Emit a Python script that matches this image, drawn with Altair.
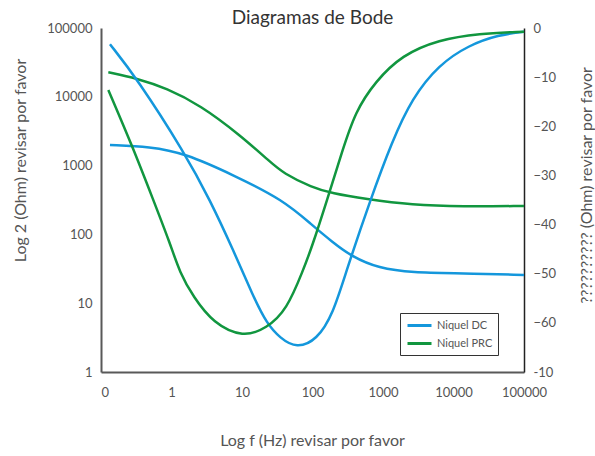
import altair as alt
import pandas as pd

# ---- data ----
series_names = ["Niquel DC", "Niquel PRC"]
tick_x = [0.1, 1, 10, 100, 1000, 10000, 100000]
tick_left = [1, 10, 100, 1000, 10000, 100000]
tick_right = [0, -10, -20, -30, -40, -50, -60, -70]

# magnitude curves (left axis, Ohm, log)
dc_mag_f = [0.134, 0.496, 1.55, 7.53, 38.5, 98.4, 189, 363, 869, 2579, 13200, 100000]
dc_mag_z = [1991, 1883, 1510, 730, 316, 137, 78.3, 47.4, 32.2, 27.8, 27.2, 25.7]
prc_mag_f = [0.127, 0.321, 0.855, 2.54, 9.37, 24.9, 38.5, 98.4, 189, 561, 2579, 13200, 100000]
prc_mag_z = [22700, 18600, 13300, 7600, 2790, 1140, 773, 481, 395, 327, 267, 253, 259]

# phase curves (right axis, degrees)
dc_ph_f = [0.134, 0.321, 1.55, 3.52, 7.53, 14.5, 22.4, 34.6, 59.7, 115, 197, 305, 661,
           1342, 2579, 6166, 16400, 43700, 100000]
dc_ph_v = [-3.3, -10.2, -25.5, -35.0, -45.2, -54.7, -60.1, -63.1, -65.2, -63.5, -58.1, -49.2,
           -35.0, -23.1, -14.3, -7.5, -3.5, -1.4, -0.75]
prc_ph_f = [0.127, 0.287, 0.552, 0.953, 1.32, 2.04, 3.92, 10.4, 22.4, 43.0, 74.1, 98.4, 161,
            262, 405, 778, 1862, 6166, 22800, 100000]
prc_ph_v = [-12.6, -24.5, -35.0, -43.8, -49.9, -54.7, -60.1, -63.0, -61.1, -57.4, -49.2, -44.5,
            -35.0, -25.2, -17.0, -10.9, -5.5, -2.4, -1.1, -0.75]

blue = "#1497DC"
green = "#11963F"

mag = pd.concat([
    pd.DataFrame({"f": dc_mag_f, "v": dc_mag_z, "s": series_names[0], "o": range(len(dc_mag_f))}),
    pd.DataFrame({"f": prc_mag_f, "v": prc_mag_z, "s": series_names[1], "o": range(len(prc_mag_f))}),
])
ph = pd.concat([
    pd.DataFrame({"f": dc_ph_f, "v": dc_ph_v, "s": series_names[0], "o": range(len(dc_ph_f))}),
    pd.DataFrame({"f": prc_ph_f, "v": prc_ph_v, "s": series_names[1], "o": range(len(prc_ph_f))}),
])

FONT = "Lato"
TXT = "#555555"

xenc = alt.X("f:Q",
             scale=alt.Scale(type="log", domain=[0.1, 100000], nice=False),
             axis=alt.Axis(values=tick_x,
                           labelExpr="datum.value < 0.5 ? '0' : format(datum.value, 'd')",
                           labelFlush=False,
                           labelAlign={"condition": {"test": "datum.value < 0.5", "value": "left"},
                                       "value": "center"},
                           title="Log f (Hz) revisar por favor", titleX=211, titleY=68,
                           titleBaseline="middle", labelPadding=14,
                           domainColor="#595959", domainWidth=2))

color = alt.Color("s:N", scale=alt.Scale(domain=series_names, range=[blue, green]),
                  legend=alt.Legend(title=None, orient="none", legendX=299, legendY=285))

left = alt.Chart(mag).mark_line(strokeWidth=2.5, interpolate="basis").encode(
    x=xenc,
    y=alt.Y("v:Q", scale=alt.Scale(type="log", domain=[1, 100000], nice=False),
            axis=alt.Axis(values=tick_left, format="d", title="Log 2 (Ohm) revisar por favor",
                          titleX=-81, titleY=132, titleAngle=270, titleBaseline="middle",
                          titleAlign="center", labelPadding=9,
                          domainColor="#595959", domainWidth=2)),
    color=color,
    order="o:Q",
)

right = alt.Chart(ph).mark_line(strokeWidth=2.5, interpolate="basis").encode(
    x=alt.X("f:Q", scale=alt.Scale(type="log", domain=[0.1, 100000], nice=False)),
    y=alt.Y("v:Q", scale=alt.Scale(domain=[-70, 0], nice=False),
            axis=alt.Axis(orient="right", values=tick_right,
                          labelExpr="datum.value == -70 ? '-10' : datum.label",
                          title="?????????? (Ohm) revisar por favor",
                          titleX=62, titleY=157, titleAngle=270, titleBaseline="middle",
                          titleAlign="center", labelPadding=9,
                          domainColor="#222222", domainWidth=1.5)),
    color=color,
    order="o:Q",
)

chart = alt.layer(left, right).resolve_scale(y="independent").properties(
    width=423, height=344,
    title=alt.TitleParams("Diagramas de Bode", fontSize=19, font=FONT, fontWeight="normal",
                          color="#333333", anchor="middle", offset=4, dy=10),
    autosize=alt.AutoSizeParams(type="none"),
    padding={"left": 101, "top": 28, "right": 71, "bottom": 84},
).configure_view(stroke=None).configure_axis(
    grid=False, ticks=False, labelFont=FONT, titleFont=FONT, labelFontSize=13,
    titleFontSize=16, labelColor=TXT, titleColor=TXT, titleFontWeight="normal",
).configure_legend(
    strokeColor="#333333", fillColor="white", padding=5, symbolType="M-2,0H2",
    symbolStrokeWidth=3, symbolSize=144, symbolOffset=7, labelFont=FONT, labelFontSize=11,
    labelColor=TXT, rowPadding=4, labelOffset=10,
)

chart.save("out.html", embed_options={"renderer": "svg", "actions": False})
